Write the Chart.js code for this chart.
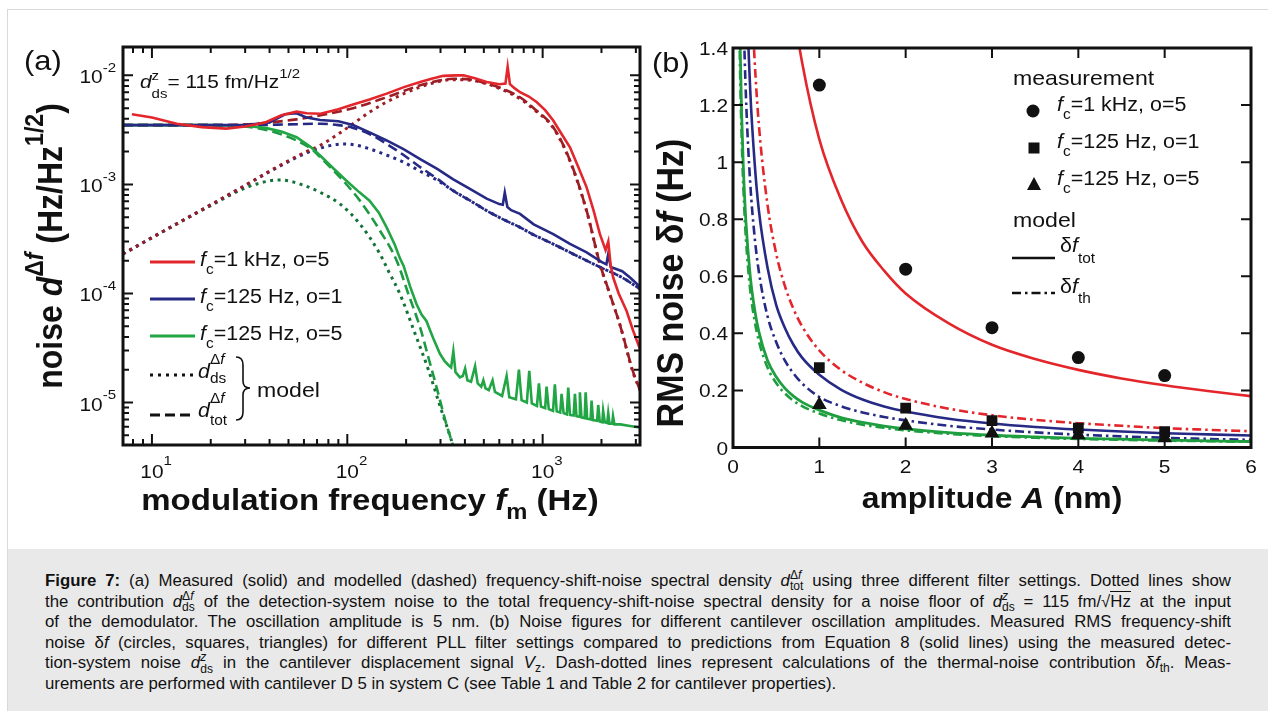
<!DOCTYPE html>
<html>
<head>
<meta charset="utf-8">
<script src="https://cdn.jsdelivr.net/npm/chart.js@4.4.1/dist/chart.umd.min.js"></script>
<style>
  html, body { margin: 0; padding: 0; background: #fff; }
  body { width: 1268px; height: 711px; position: relative; overflow: hidden; font-family: "Liberation Sans", Arial, sans-serif; }
  .frame { position: absolute; left: 7px; top: 9px; right: 0; bottom: 0; border-left: 1px solid #d9d9d9; border-top: 1px solid #d9d9d9; }
  canvas { position: absolute; left: 0; top: 0; }
  .caption { position: absolute; left: 8px; top: 549px; width: 1260px; height: 162px; background: #e9e9e9; color: #111; font-size: 16.8px; line-height: 20.6px; }
  .caption .lines { position: absolute; left: 37px; top: 22px; width: 1186px; }
  .ln { text-align: justify; text-align-last: justify; height: 20.6px; }
  .ln.last { text-align-last: left; }
  .ss { position: relative; font-size: 0.72em; line-height: 0; }
  .ss .hi { position: absolute; left: 0; top: 0; }
  .ss .lo { position: relative; top: 0.35em; }
  .sub { font-size: 0.72em; line-height: 0; position: relative; top: 0.3em; }
  .rt { border-top: 1px solid #111; }
</style>
</head>
<body>
<div class="frame"></div>
<canvas id="chartA" width="1268" height="548"></canvas>
<canvas id="chartB" width="1268" height="548"></canvas>
<div class="caption">
  <div class="lines">
    <div class="ln"><b>Figure 7:</b> (a) Measured (solid) and modelled (dashed) frequency-shift-noise spectral density <i>d</i><span class="ss"><span class="hi">Δ<i>f</i></span><span class="lo">tot</span></span> using three different filter settings. Dotted lines show</div>
    <div class="ln">the contribution <i>d</i><span class="ss"><span class="hi">Δ<i>f</i></span><span class="lo">ds</span></span> of the detection-system noise to the total frequency-shift-noise spectral density for a noise floor of <i>d</i><span class="ss"><span class="hi"><i>z</i></span><span class="lo">ds</span></span> = 115 fm/√<span class="rt">Hz</span> at the input</div>
    <div class="ln">of the demodulator. The oscillation amplitude is 5 nm. (b) Noise figures for different cantilever oscillation amplitudes. Measured RMS frequency-shift</div>
    <div class="ln">noise δ<i>f</i> (circles, squares, triangles) for different PLL filter settings compared to predictions from Equation 8 (solid lines) using the measured detec-</div>
    <div class="ln">tion-system noise <i>d</i><span class="ss"><span class="hi"><i>z</i></span><span class="lo">ds</span></span> in the cantilever displacement signal <i>V</i><span class="sub">z</span>. Dash-dotted lines represent calculations of the thermal-noise contribution δ<i>f</i><span class="sub">th</span>. Meas-</div>
    <div class="ln last">urements are performed with cantilever D 5 in system C (see Table 1 and Table 2 for cantilever properties).</div>
  </div>
</div>
<script>
// ---------- panel (a): noise spectral density vs modulation frequency ----------
const redMeasFreq = [7.9, 10, 13.4, 18, 24, 30, 38, 46, 55, 62, 73, 90, 107, 130, 159, 195, 236, 270, 310, 360, 393, 450, 517, 600, 645, 662, 680, 720, 766, 850, 931, 1030, 1133, 1250, 1380, 1520, 1679, 1820, 1964, 2100, 2167, 2230, 2297, 2450, 2690, 2900, 3150];
const redMeasNoise = [4.4e-3, 4.1e-3, 3.6e-3, 3.35e-3, 3.25e-3, 3.4e-3, 3.7e-3, 4.3e-3, 4.65e-3, 4.5e-3, 4.45e-3, 4.9e-3, 5.4e-3, 6.0e-3, 6.8e-3, 7.8e-3, 8.7e-3, 9.3e-3, 9.9e-3, 1.0e-2, 1.0e-2, 9.4e-3, 8.7e-3, 8.3e-3, 8.4e-3, 1.2e-2, 8.3e-3, 7.6e-3, 7.0e-3, 6.4e-3, 5.7e-3, 4.8e-3, 3.86e-3, 2.9e-3, 2.19e-3, 1.45e-3, 9.4e-4, 5.8e-4, 3.5e-4, 2.5e-4, 3.0e-4, 1.8e-4, 1.4e-4, 1.0e-4, 6.9e-5, 4.6e-5, 3.1e-5];
const redTotFreq = [7.1, 10, 20, 30, 40, 55, 73, 107, 159, 236, 300, 347, 420, 520, 650, 766, 900, 1133, 1380, 1679, 1964, 2209, 2500, 2897, 3150];
const redTotNoise = [3.5e-3, 3.5e-3, 3.5e-3, 3.55e-3, 3.7e-3, 3.95e-3, 4.3e-3, 5.0e-3, 6.3e-3, 8.1e-3, 9.0e-3, 9.3e-3, 9.2e-3, 8.4e-3, 7.3e-3, 6.3e-3, 5.0e-3, 3.35e-3, 1.66e-3, 5.75e-4, 1.87e-4, 9.9e-5, 5.0e-5, 1.94e-5, 1.3e-5];
const redDsFreq = [7.1, 10, 20, 30, 43.5, 60, 72.6, 90, 107, 130, 159, 195, 236, 280, 334, 400, 480, 600, 766, 900, 1133, 1380, 1679, 1964, 2209, 2500, 2897, 3150];
const redDsNoise = [2.3e-4, 3.25e-4, 6.5e-4, 9.8e-4, 1.44e-3, 1.95e-3, 2.28e-3, 2.9e-3, 3.6e-3, 4.6e-3, 5.7e-3, 6.8e-3, 7.8e-3, 8.6e-3, 9.1e-3, 9.1e-3, 8.7e-3, 7.6e-3, 6.1e-3, 4.9e-3, 3.3e-3, 1.64e-3, 5.7e-4, 1.85e-4, 9.8e-5, 5.0e-5, 1.9e-5, 1.3e-5];

const blueMeasFreq = [7.1, 10, 20, 30, 40, 48, 55, 62, 72.6, 90, 107, 130, 159, 195, 236, 290, 347, 420, 517, 600, 625, 640, 660, 690, 766, 900, 1133, 1380, 1679, 2000, 2120, 2167, 2230, 2554, 2800, 3150];
const blueMeasNoise = [3.5e-3, 3.5e-3, 3.5e-3, 3.5e-3, 3.7e-3, 4.4e-3, 4.5e-3, 4.1e-3, 3.9e-3, 3.8e-3, 3.5e-3, 3.0e-3, 2.53e-3, 2.1e-3, 1.71e-3, 1.38e-3, 1.12e-3, 9.2e-4, 7.4e-4, 6.6e-4, 6.5e-4, 8.4e-4, 6.2e-4, 5.8e-4, 5.37e-4, 4.3e-4, 3.5e-4, 2.85e-4, 2.38e-4, 1.95e-4, 1.85e-4, 2.3e-4, 1.75e-4, 1.6e-4, 1.4e-4, 1.15e-4];
const blueTotFreq = [7.1, 10, 20, 30, 50, 72.6, 90, 107, 130, 159, 195, 236, 290, 347, 420, 517, 640, 766, 900, 1133, 1400, 1679, 2100, 2554, 3150];
const blueTotNoise = [3.5e-3, 3.5e-3, 3.5e-3, 3.5e-3, 3.55e-3, 3.6e-3, 3.5e-3, 3.3e-3, 2.9e-3, 2.35e-3, 1.85e-3, 1.44e-3, 1.12e-3, 8.8e-4, 7.2e-4, 5.75e-4, 4.7e-4, 4.04e-4, 3.45e-4, 2.84e-4, 2.35e-4, 2.0e-4, 1.65e-4, 1.4e-4, 1.1e-4];
const blueDsFreq = [7.1, 10, 20, 30, 43.5, 60, 72.6, 85, 95.6, 110, 130, 160, 194, 240, 287, 347, 420, 517, 640, 766, 900, 1133, 1400, 1679, 2100, 2554, 3150];
const blueDsNoise = [2.3e-4, 3.25e-4, 6.5e-4, 9.8e-4, 1.42e-3, 1.9e-3, 2.15e-3, 2.3e-3, 2.35e-3, 2.3e-3, 2.12e-3, 1.85e-3, 1.6e-3, 1.3e-3, 1.1e-3, 8.8e-4, 7.2e-4, 5.75e-4, 4.7e-4, 4.04e-4, 3.45e-4, 2.84e-4, 2.35e-4, 2.0e-4, 1.65e-4, 1.4e-4, 1.1e-4];

const greenMeasFreq = [7.1, 10, 20, 30, 38, 46, 55, 65, 72.6, 85, 99, 115, 130, 145, 159, 175, 186, 194, 210, 226, 240, 254, 275, 298, 315, 330, 340, 349, 358, 377, 390, 401, 412, 430, 451, 465, 485, 497, 510, 530, 554, 570, 620, 654, 675, 730, 756, 780, 830, 854, 880, 935, 957, 980, 1030, 1047, 1075, 1130, 1155, 1180, 1230, 1250, 1280, 1330, 1352, 1380, 1440, 1463, 1490, 1535, 1551, 1580, 1640, 1660, 1690, 1760, 1780, 1810, 1900, 1925, 1960, 2020, 2040, 2080, 2140, 2166, 2200, 2270, 2292, 2330, 2500, 2800, 3150];
const greenMeasNoise = [3.5e-3, 3.5e-3, 3.5e-3, 3.45e-3, 3.3e-3, 3.05e-3, 2.71e-3, 2.2e-3, 1.84e-3, 1.4e-3, 1.08e-3, 8.5e-4, 7.1e-4, 5.5e-4, 4.04e-4, 2.8e-4, 2.1e-4, 1.8e-4, 1.15e-4, 8e-5, 6.4e-5, 5.6e-5, 3.9e-5, 2.8e-5, 2.4e-5, 2.2e-5, 2.1e-5, 2.95e-5, 1.9e-5, 1.7e-5, 1.75e-5, 2.05e-5, 1.6e-5, 1.55e-5, 2.15e-5, 1.5e-5, 1.4e-5, 1.6e-5, 1.35e-5, 1.3e-5, 1.6e-5, 1.25e-5, 1.15e-5, 1.75e-5, 1.12e-5, 1.07e-5, 2.0e-5, 1.05e-5, 1.0e-5, 1.95e-5, 9.8e-6, 9.3e-6, 1.5e-5, 9.2e-6, 8.9e-6, 1.4e-5, 8.7e-6, 8.4e-6, 1.47e-5, 8.3e-6, 8.1e-6, 1.2e-5, 8.0e-6, 7.8e-6, 1.37e-5, 7.7e-6, 7.6e-6, 1.2e-5, 7.5e-6, 7.4e-6, 1.24e-5, 7.3e-6, 7.2e-6, 1.24e-5, 7.1e-6, 7.0e-6, 1.04e-5, 6.9e-6, 6.8e-6, 9.5e-6, 6.7e-6, 6.6e-6, 8.4e-6, 6.6e-6, 6.5e-6, 8.0e-6, 6.4e-6, 6.4e-6, 7.5e-6, 6.3e-6, 6.3e-6, 6.1e-6, 5.9e-6];
const greenTotFreq = [7.1, 10, 20, 30, 40, 55, 67, 72.6, 91.9, 116, 147, 179, 205, 236, 260, 287, 320, 348, 400];
const greenTotNoise = [3.5e-3, 3.5e-3, 3.5e-3, 3.4e-3, 3.1e-3, 2.53e-3, 2.05e-3, 1.78e-3, 1.16e-3, 7.1e-4, 3.76e-4, 2.0e-4, 1.0e-4, 4.86e-5, 2.6e-5, 1.36e-5, 6.5e-6, 4.0e-6, 1.6e-6];
const greenDsFreq = [7.1, 10, 20, 30.6, 40.3, 46, 51, 60, 72.6, 91.9, 116, 147, 162, 186, 220, 260, 300, 348, 400];
const greenDsNoise = [2.3e-4, 3.25e-4, 6.4e-4, 9.4e-4, 1.08e-3, 1.1e-3, 1.07e-3, 9.8e-4, 8.46e-4, 6.6e-4, 4.34e-4, 2.3e-4, 1.62e-4, 9.9e-5, 4.5e-5, 2.0e-5, 9.0e-6, 4.0e-6, 1.6e-6];

const freqDecades = [10, 100, 1000];
const freqExponents = ['1', '2', '3'];
const noiseDecades = [1e-5, 1e-4, 1e-3, 1e-2];
const noiseExponents = ['-5', '-4', '-3', '-2'];

// ---------- panel (b): RMS noise vs amplitude ----------
const measAmp = [1, 2, 3, 4, 5];
const circleNoise = [1.27, 0.625, 0.42, 0.315, 0.252];
const squareNoise = [0.28, 0.138, 0.094, 0.068, 0.056];
const triangleNoise = [0.15, 0.077, 0.05, 0.044, 0.033];

const modelAmp = [0.06, 0.08, 0.1, 0.12, 0.15, 0.2, 0.25, 0.3, 0.4, 0.5, 0.6, 0.7, 0.8, 1, 1.25, 1.5, 1.75, 2, 2.5, 3, 3.5, 4, 4.5, 5, 5.5, 6];
const redTotAmpNoise = [18, 13.5, 10.8, 9, 7.2, 5.4, 4.3, 3.6, 2.7, 2.16, 1.8, 1.54, 1.35, 1.08, 0.87, 0.72, 0.62, 0.54, 0.435, 0.36, 0.31, 0.272, 0.242, 0.218, 0.198, 0.18];
const redThNoise = [5.7, 4.25, 3.4, 2.83, 2.27, 1.7, 1.36, 1.13, 0.85, 0.68, 0.567, 0.486, 0.425, 0.34, 0.272, 0.227, 0.194, 0.17, 0.136, 0.113, 0.097, 0.085, 0.076, 0.068, 0.062, 0.057];
const blueTotAmpNoise = [4.2, 3.1, 2.5, 2.08, 1.67, 1.25, 1.0, 0.83, 0.63, 0.5, 0.42, 0.36, 0.315, 0.255, 0.203, 0.168, 0.144, 0.126, 0.101, 0.084, 0.072, 0.063, 0.056, 0.05, 0.046, 0.042];
const blueThNoise = [3.1, 2.3, 1.85, 1.54, 1.23, 0.925, 0.74, 0.615, 0.46, 0.37, 0.305, 0.26, 0.225, 0.177, 0.145, 0.123, 0.107, 0.095, 0.076, 0.063, 0.053, 0.045, 0.039, 0.034, 0.03, 0.027];
const greenTotAmpNoise = [1.95, 1.45, 1.17, 0.98, 0.79, 0.6, 0.485, 0.405, 0.305, 0.248, 0.208, 0.18, 0.159, 0.131, 0.105, 0.088, 0.075, 0.065, 0.052, 0.043, 0.037, 0.032, 0.029, 0.026, 0.023, 0.021];
const greenThNoise = [1.8, 1.35, 1.09, 0.91, 0.73, 0.55, 0.445, 0.372, 0.28, 0.226, 0.19, 0.164, 0.145, 0.119, 0.096, 0.08, 0.069, 0.06, 0.048, 0.04, 0.034, 0.03, 0.027, 0.024, 0.022, 0.02];

const ampTicks = [0, 1, 2, 3, 4, 5, 6];
const ampTickLabels = ['0', '1', '2', '3', '4', '5', '6'];
const rmsTicks = [0, 0.2, 0.4, 0.6, 0.8, 1, 1.2, 1.4];
const rmsTickLabels = ['0', '0.2', '0.4', '0.6', '0.8', '1', '1.2', '1.4'];

const filterLabels = ['=1 kHz, o=5', '=125 Hz, o=1', '=125 Hz, o=5'];

const RED = '#e3262b', DARKRED = '#9c1d24', NAVY = '#262a85', GREEN = '#22a544', DARKGREEN = '#137238';
const FIG_FONT = '"Liberation Sans", Arial, sans-serif';
const STRETCH = 1.1;

const pts = (xs, ys) => xs.map((x, i) => ({ x, y: ys[i] }));

function lineSet(xs, ys, color, width, dash, smooth) {
    return {
        data: pts(xs, ys),
        borderColor: color,
        borderWidth: width,
        borderDash: dash || [],
        pointRadius: 0,
        fill: false,
        tension: 0,
        cubicInterpolationMode: smooth ? 'monotone' : 'default'
    };
}

// small rich-text helper: parts = [text, style, dyEm, sizeRatio]
function runParts(ctx, parts, size, x0, draw) {
    let cx = x0, sx = x0, ex = x0;
    for (const p of parts) {
        const [t, st = '', dyEm, sr] = p;
        if (t === '<') { sx = cx; continue; }
        if (t === '>') { ex = cx; cx = sx; continue; }
        if (t === '.') { cx = Math.max(cx, ex); continue; }
        const sup = st.includes('^'), sub = st.includes('_');
        const fs = size * (sr || (sup || sub ? 0.72 : 1));
        const dy = size * (dyEm != null ? dyEm : sup ? -0.45 : sub ? 0.4 : 0);
        ctx.font = (st.includes('i') ? 'italic ' : '') + (st.includes('b') ? 'bold ' : '') + fs + 'px ' + FIG_FONT;
        if (draw) ctx.fillText(t, cx, dy);
        cx += ctx.measureText(t).width;
    }
    return cx - x0;
}

function richText(ctx, parts, x, y, size, align, rotated) {
    ctx.save();
    ctx.translate(x, y);
    ctx.scale(STRETCH, 1);
    if (rotated) ctx.rotate(-Math.PI / 2);
    ctx.textAlign = 'left';
    ctx.textBaseline = 'alphabetic';
    ctx.fillStyle = '#111';
    const w = runParts(ctx, parts, size, 0, false);
    const x0 = align === 'center' ? -w / 2 : align === 'right' ? -w : 0;
    runParts(ctx, parts, size, x0, true);
    ctx.restore();
}

function textWidth(ctx, t, size) {
    ctx.save();
    ctx.font = size + 'px ' + FIG_FONT;
    const w = ctx.measureText(t).width * STRETCH;
    ctx.restore();
    return w;
}

function seg(ctx, x1, y1, x2, y2) {
    ctx.moveTo(x1, y1);
    ctx.lineTo(x2, y2);
}

function sample(ctx, x1, x2, y, color, dash, width) {
    ctx.save();
    ctx.strokeStyle = color;
    ctx.lineWidth = width || 3;
    ctx.setLineDash(dash || []);
    ctx.beginPath();
    seg(ctx, x1, y, x2, y);
    ctx.stroke();
    ctx.restore();
}

const panelA = {
    id: 'panelA',
    afterDraw(chart) {
        const { ctx, chartArea: a, scales: { x, y } } = chart;
        ctx.save();
        ctx.strokeStyle = '#111';
        ctx.lineWidth = 2;
        ctx.beginPath();
        for (let e = Math.floor(Math.log10(x.min)); e <= Math.floor(Math.log10(x.max)); e++) {
            for (let m = 1; m <= 9; m++) {
                const v = m * Math.pow(10, e);
                if (v < x.min || v > x.max) continue;
                const px = x.getPixelForValue(v), len = m === 1 ? 11 : 6;
                seg(ctx, px, a.bottom, px, a.bottom - len);
                seg(ctx, px, a.top, px, a.top + len);
            }
        }
        for (let e = Math.floor(Math.log10(y.min)); e <= Math.floor(Math.log10(y.max)); e++) {
            for (let m = 1; m <= 9; m++) {
                const v = m * Math.pow(10, e);
                if (v < y.min || v > y.max) continue;
                const py = y.getPixelForValue(v), len = m === 1 ? 10 : 6;
                seg(ctx, a.left, py, a.left + len, py);
                seg(ctx, a.right, py, a.right - len, py);
            }
        }
        ctx.stroke();
        ctx.lineWidth = 3;
        ctx.strokeRect(a.left, a.top, a.right - a.left, a.bottom - a.top);

        // tick labels
        const w10 = textWidth(ctx, '10', 19);
        freqDecades.forEach((v, i) => {
            const px = x.getPixelForValue(v);
            richText(ctx, [['10'], [freqExponents[i], '^', -0.7]], px - w10 / 2, 478, 19);
        });
        noiseDecades.forEach((v, i) => {
            const py = y.getPixelForValue(v);
            richText(ctx, [['10'], [noiseExponents[i], '^', -0.62]], 116, py + 8, 19, 'right');
        });

        // titles
        richText(ctx, [['(a)']], 24, 70, 28);
        richText(ctx, [['modulation frequency ', 'b'], ['f', 'bi'], ['m', 'b_', 0.3], [' (Hz)', 'b']], 370, 510, 30, 'center');
        richText(ctx, [['noise ', 'b'], ['d', 'bi'], ['Δ', 'b^', -0.55], ['f', 'bi^', -0.55], [' (Hz/Hz', 'b'], ['1/2', 'b^', -0.55], [')', 'b']], 62, 246, 32, 'center', true);
        richText(ctx, [['d', 'i'], ['<'], ['z', '^', -0.42], ['>'], ['ds', '_', 0.5], ['.'], ['= 115 fm/Hz'], ['1/2', '^', -0.55]], 140, 88, 19);

        // legend
        const legendColors = [RED, NAVY, GREEN];
        const legendY = [262, 299, 336];
        legendColors.forEach((c, i) => {
            sample(ctx, 150, 195, legendY[i], c);
            richText(ctx, [['f', 'i'], ['c', '_', 0.42], [filterLabels[i]]], 200, legendY[i] + 4, 19.5);
        });
        sample(ctx, 150, 194, 375, '#111', [3, 5]);
        sample(ctx, 150, 194, 415, '#111', [10, 5]);
        richText(ctx, [['d', 'i'], ['<'], ['Δ', '^', -0.7], ['f', 'i^', -0.7], ['>'], ['ds', '_', 0.25], ['.']], 198, 378, 19.5);
        richText(ctx, [['d', 'i'], ['<'], ['Δ', '^', -0.7], ['f', 'i^', -0.7], ['>'], ['tot', '_', 0.4], ['.']], 198, 417, 19.5);
        // brace
        ctx.lineWidth = 1.6;
        ctx.beginPath();
        ctx.moveTo(236, 357);
        ctx.quadraticCurveTo(243, 357, 243, 365);
        ctx.lineTo(243, 381);
        ctx.quadraticCurveTo(243, 388, 250, 388);
        ctx.quadraticCurveTo(243, 388, 243, 395);
        ctx.lineTo(243, 412);
        ctx.quadraticCurveTo(243, 420, 236, 420);
        ctx.stroke();
        richText(ctx, [['model']], 257, 397, 21);
        ctx.restore();
    }
};

const panelB = {
    id: 'panelB',
    afterDraw(chart) {
        const { ctx, chartArea: a, scales: { x, y } } = chart;
        ctx.save();
        ctx.strokeStyle = '#111';
        ctx.lineWidth = 2;
        ctx.beginPath();
        ampTicks.forEach(v => {
            if (v <= x.min || v >= x.max) return;
            const px = x.getPixelForValue(v);
            seg(ctx, px, a.bottom, px, a.bottom - 10);
            seg(ctx, px, a.top, px, a.top + 10);
        });
        rmsTicks.forEach(v => {
            if (v <= y.min || v >= y.max) return;
            const py = y.getPixelForValue(v);
            seg(ctx, a.left, py, a.left + 10, py);
            seg(ctx, a.right, py, a.right - 10, py);
        });
        ctx.stroke();
        ctx.lineWidth = 3;
        ctx.strokeRect(a.left, a.top, a.right - a.left, a.bottom - a.top);

        ampTicks.forEach((v, i) => richText(ctx, [[ampTickLabels[i]]], x.getPixelForValue(v), 473, 19, 'center'));
        rmsTicks.forEach((v, i) => richText(ctx, [[rmsTickLabels[i]]], 728, y.getPixelForValue(v) + 7, 19, 'right'));

        richText(ctx, [['(b)']], 652, 72, 28);
        richText(ctx, [['amplitude ', 'b'], ['A', 'bi'], [' (nm)', 'b']], 992, 508, 29, 'center');
        richText(ctx, [['RMS noise ', 'b'], ['δ', 'b'], ['f', 'bi'], [' (Hz)', 'b']], 683, 283, 34, 'center', true);

        // legend
        richText(ctx, [['measurement']], 1013, 85, 21);
        const rowY = [111, 148, 185];
        ctx.fillStyle = '#111';
        ctx.beginPath();
        ctx.arc(1033, rowY[0], 6.5, 0, Math.PI * 2);
        ctx.fill();
        ctx.fillRect(1028.5, rowY[1] - 5.5, 11, 11);
        ctx.beginPath();
        ctx.moveTo(1034, rowY[2] - 8);
        ctx.lineTo(1041, rowY[2] + 5);
        ctx.lineTo(1027, rowY[2] + 5);
        ctx.closePath();
        ctx.fill();
        rowY.forEach((ry, i) => richText(ctx, [['f', 'i'], ['c', '_', 0.42], [filterLabels[i]]], 1057, ry, 19.5));
        richText(ctx, [['model']], 1013, 227, 21);
        sample(ctx, 1012, 1055, 258, '#111', [], 2.6);
        sample(ctx, 1012, 1055, 293, '#111', [9, 4, 2.5, 4], 2.6);
        richText(ctx, [['δ'], ['f', 'i'], ['tot', '_', 0.58]], 1060, 252, 19.5);
        richText(ctx, [['δ'], ['f', 'i'], ['th', '_', 0.52]], 1060, 293, 19.5);
        ctx.restore();
    }
};

const baseOptions = (padding, xScale, yScale) => ({
    responsive: false,
    animation: false,
    events: [],
    layout: { padding },
    plugins: { legend: { display: false }, tooltip: { enabled: false } },
    elements: { line: { capBezierPoints: false } },
    scales: { x: xScale, y: yScale }
});

new Chart(document.getElementById('chartA'), {
    type: 'line',
    data: {
        datasets: [
            lineSet(redMeasFreq, redMeasNoise, RED, 2.6),
            lineSet(blueMeasFreq, blueMeasNoise, NAVY, 2.6),
            lineSet(greenMeasFreq, greenMeasNoise, GREEN, 2.6),
            lineSet(redTotFreq, redTotNoise, DARKRED, 2.6, [10, 5], true),
            lineSet(blueTotFreq, blueTotNoise, NAVY, 2.6, [10, 5], true),
            lineSet(greenTotFreq, greenTotNoise, '#1c9a42', 2.6, [10, 5], true),
            lineSet(redDsFreq, redDsNoise, DARKRED, 3, [3, 4.5], true),
            lineSet(blueDsFreq, blueDsNoise, NAVY, 3, [3, 4.5], true),
            lineSet(greenDsFreq, greenDsNoise, DARKGREEN, 3, [3, 4.5], true)
        ]
    },
    options: baseOptions(
        { left: 123, top: 47, right: 1268 - 640, bottom: 548 - 445 },
        { type: 'logarithmic', min: 7.11, max: 3150, display: false },
        { type: 'logarithmic', min: 4.08e-6, max: 0.0182, display: false }
    ),
    plugins: [panelA]
});

new Chart(document.getElementById('chartB'), {
    type: 'line',
    data: {
        datasets: [
            { data: pts(measAmp, circleNoise), showLine: false, pointStyle: 'circle', pointRadius: 6.5, pointBackgroundColor: '#111', pointBorderWidth: 0 },
            { data: pts(measAmp, squareNoise), showLine: false, pointStyle: 'rect', pointRadius: 7.6, pointBackgroundColor: '#111', pointBorderWidth: 0 },
            { data: pts(measAmp, triangleNoise), showLine: false, pointStyle: 'triangle', pointRadius: 8.5, pointBackgroundColor: '#111', pointBorderWidth: 0 },
            lineSet(modelAmp, redTotAmpNoise, RED, 2.6, [], true),
            lineSet(modelAmp, blueTotAmpNoise, NAVY, 2.6, [], true),
            lineSet(modelAmp, greenTotAmpNoise, '#1f9e40', 2.8, [], true),
            lineSet(modelAmp, redThNoise, RED, 2.6, [9, 4, 2.5, 4], true),
            lineSet(modelAmp, blueThNoise, NAVY, 2.6, [9, 4, 2.5, 4], true),
            lineSet(modelAmp, greenThNoise, '#1f9e40', 2.6, [9, 4, 2.5, 4], true)
        ]
    },
    options: baseOptions(
        { left: 733, top: 48, right: 1268 - 1251, bottom: 548 - 447.5 },
        { type: 'linear', min: 0, max: 6, display: false },
        { type: 'linear', min: 0, max: 1.4, display: false }
    ),
    plugins: [panelB]
});
</script>
</body>
</html>
